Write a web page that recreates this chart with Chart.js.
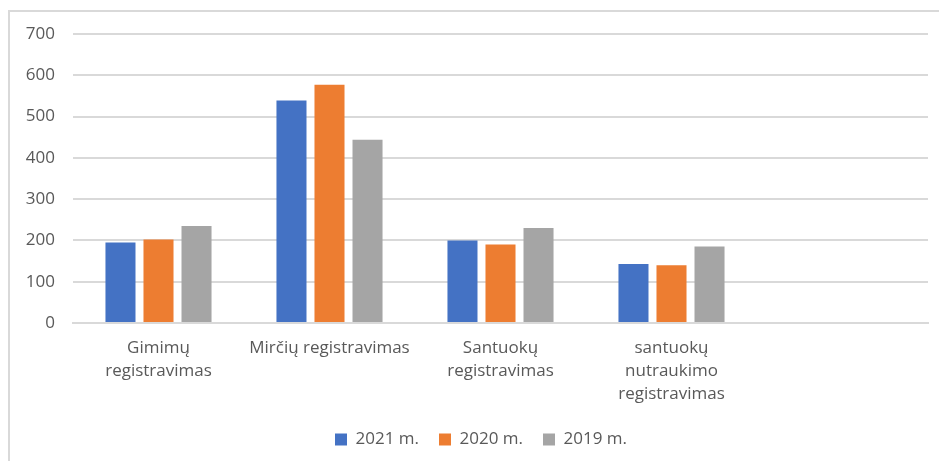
<!DOCTYPE html>
<html>
<head>
<meta charset="utf-8">
<script src="https://cdn.jsdelivr.net/npm/chart.js@4"></script>
<style>
    html, body { margin: 0; padding: 0; background: #fff; overflow: hidden; }
    #frame {
        position: absolute;
        left: 8px;
        top: 10px;
        width: 944px;
        height: 470px;
        border: 2px solid #d9d9d9;
        box-sizing: border-box;
    }
    #chart { display: block; }
</style>
</head>
<body>
<div id="frame">
    <canvas id="chart" width="940" height="466"></canvas>
</div>
<script>
// Categories (last slot is empty in the original chart)
const categories = [
    ['Gimimų', 'registravimas'],
    'Mirčių registravimas',
    ['Santuokų', 'registravimas'],
    ['santuokų', 'nutraukimo', 'registravimas'],
    ''
];

const seriesNames = ['2021 m.', '2020 m.', '2019 m.'];

const values2021 = [195, 539, 200, 143, null];
const values2020 = [202, 577, 190, 140, null];
const values2019 = [235, 444, 230, 185, null];

const yTicks = [0, 100, 200, 300, 400, 500, 600, 700];

const colors = ['#4472C4', '#ED7D31', '#A5A5A5'];
const textColor = '#595959';
const gridColor = '#d9d9d9';
const fontFamily = '"Open Sans", sans-serif';

// legend sits a bit right of the plot centre in the original
const shiftLegend = {
    id: 'shiftLegend',
    afterLayout(chart) {
        chart.legend.left += 12;
        chart.legend.right += 12;
    }
};

const ctx = document.getElementById('chart').getContext('2d');
new Chart(ctx, {
    type: 'bar',
    data: {
        labels: categories,
        datasets: [values2021, values2020, values2019].map((vals, i) => ({
            label: seriesNames[i],
            data: vals,
            backgroundColor: colors[i],
            borderWidth: 0,
            categoryPercentage: 0.667,
            barPercentage: 0.79
        }))
    },
    options: {
        responsive: false,
        animation: false,
        layout: {
            padding: { top: 22, right: 22, bottom: 20, left: 0 }
        },
        scales: {
            x: {
                grid: { display: false, drawTicks: false },
                border: { display: true, color: gridColor, width: 2 },
                ticks: {
                    color: textColor,
                    font: { family: fontFamily, size: 17, lineHeight: 1.353 },
                    padding: 14,
                    maxRotation: 0,
                    autoSkip: false
                },
                afterFit: function(scale) {
                    scale.height = 88;
                }
            },
            y: {
                min: 0,
                max: 700,
                afterBuildTicks: function(scale) {
                    scale.ticks = yTicks.map(v => ({ value: v }));
                },
                grid: { color: gridColor, lineWidth: 2, drawTicks: false },
                border: { display: false },
                ticks: {
                    color: textColor,
                    font: { family: fontFamily, size: 17 },
                    padding: 18
                },
                afterFit: function(scale) {
                    scale.width = 63;
                    scale.paddingTop = 0;
                    scale.paddingBottom = 0;
                }
            }
        },
        plugins: {
            legend: {
                position: 'bottom',
                labels: {
                    color: textColor,
                    font: { family: fontFamily, size: 17 },
                    boxWidth: 12,
                    boxHeight: 12,
                    padding: 20
                }
            },
            tooltip: { enabled: false }
        }
    },
    plugins: [shiftLegend]
});
</script>
</body>
</html>
